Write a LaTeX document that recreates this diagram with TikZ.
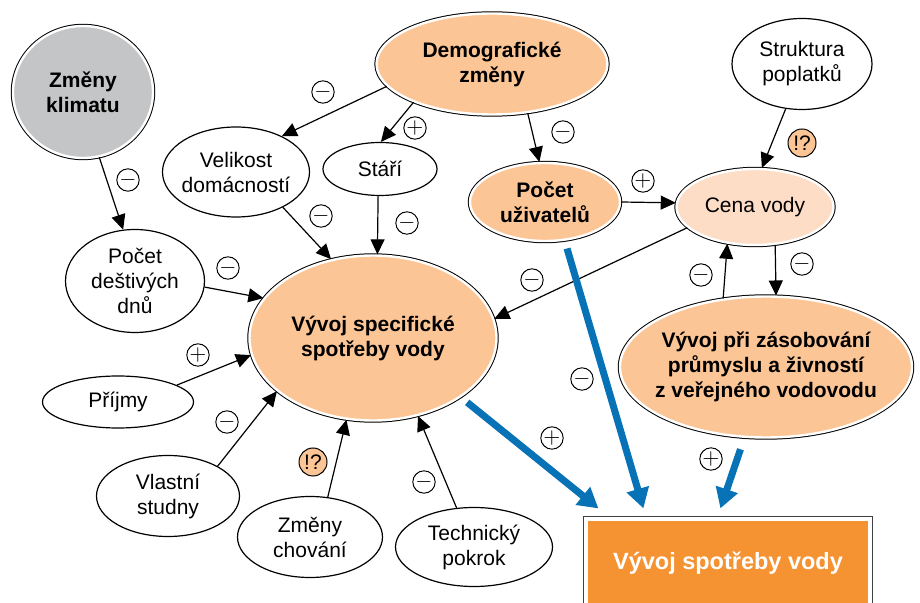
\documentclass[tikz,border=0pt]{standalone}
\usepackage{fontspec}
\setmainfont{Liberation Sans}
\usepackage{tikz}
\usetikzlibrary{arrows.meta,shapes.geometric}

\definecolor{peach}{RGB}{252,197,150}
\definecolor{lightpeach}{RGB}{253,221,198}
\definecolor{boxorange}{RGB}{245,146,50}
\definecolor{climgray}{RGB}{196,197,199}
\definecolor{flowblue}{RGB}{8,114,182}

\begin{document}
\begin{tikzpicture}[
    x=0.5pt, y=-0.5pt,
    every node/.style={font=\fontsize{10.5}{12.5}\selectfont, align=center, inner sep=0pt},
    el/.style={ellipse, draw, line width=0.6pt},
    ring/.style={ellipse, fill=#1, draw=white, line width=1.2pt,
                 preaction={draw=black, line width=2.2pt}},
    bx/.style={rectangle, fill=boxorange, draw=white, line width=1.6pt,
               preaction={draw=black!75, line width=2.6pt}},
    bf/.style={font=\fontsize{10.5}{12.5}\selectfont\bfseries},
    e/.style={-{Triangle[length=7.5pt, width=7pt]}, line width=0.6pt},
    be/.style={-{Triangle[length=10pt, width=11pt]}, line width=3.5pt, draw=flowblue},
    sg/.style={circle, draw, line width=0.5pt, minimum size=11pt},
    qm/.style={circle, draw, fill=peach, line width=0.5pt, minimum size=14pt},
  ]
  \useasboundingbox (0,0) rectangle (920,603);

  % nodes
  \node[ring=climgray, bf, minimum width=70pt, minimum height=66pt] (klima) at (83,92) {Změny\\klimatu};
  \node[ring=peach, bf, minimum width=115.5pt, minimum height=50.5pt] (demo) at (492,64) {Demografické\\změny};
  \node[el, minimum width=70pt, minimum height=45.5pt] (strukt) at (802,64) {Struktura\\poplatků};
  \node[el, inner xsep=-1.8pt, minimum width=73.5pt, minimum height=45pt] (vel) at (236,172) {Velikost\\domácností};
  \node[el, minimum width=57pt, minimum height=26.5pt] (stari) at (380,169) {Stáří};
  \node[ring=peach, bf, minimum width=75pt, minimum height=39pt] (pocet) at (545,202) {Počet\\uživatelů};
  \node[ring=lightpeach, minimum width=78.5pt, minimum height=38pt] (cena) at (755,207) {Cena vody};
  \node[el, minimum width=69.5pt, minimum height=51.5pt] (dest) at (135,281) {Počet\\deštivých\\dnů};
  \node[ring=peach, bf, minimum width=123.5pt, minimum height=82.5pt] (spec) at (373,338) {Vývoj specifické\\spotřeby vody};
  \node[el, minimum width=75.5pt, minimum height=26pt] (prijmy) at (118,402) {Příjmy};
  \node[el, minimum width=71.5pt, minimum height=40.5pt] (studny) at (168,496) {Vlastní\\studny};
  \node[el, minimum width=72.5pt, minimum height=40.5pt] (chovani) at (310,537) {Změny\\chování};
  \node[el, minimum width=78.5pt, minimum height=39.5pt] (tech) at (474,547) {Technický\\pokrok};
  \node[ring=peach, bf, inner xsep=-3.8pt, minimum width=144.5pt, minimum height=70.5pt] (zas) at (766,367) {Vývoj při zásobování\\průmyslu a živností\\z veřejného vodovodu};
  \node[bx, minimum width=142pt, minimum height=44pt, text=white, font=\fontsize{11.75}{14}\selectfont\bfseries] (celk) at (728,563) {Vývoj spotřeby vody};

  % black arrows
  \draw[e] (klima.284) -- (dest.103);
  \draw[e] (demo.192) -- (vel.38);
  \draw[e] (demo.206) -- (stari.88);
  \draw[e] (demo.306) -- (pocet.98);
  \draw[e] (strukt.250) -- (cena.80);
  \draw[e] (pocet.0) -- (cena.177);
  \draw[e] (cena.197) -- (spec.9);
  \draw[e] (zas.122) -- (cena.233);
  \draw[e] (cena.298) -- (zas.82);
  \draw[e] (vel.323) -- (spec.118);
  \draw[e] (stari.266) -- (spec.87);
  \draw[e] (dest.355) -- (spec.160);
  \draw[e] (prijmy.16) -- (spec.188);
  \draw[e] (studny.31) -- (spec.209);
  \draw[e] (chovani.66) -- (spec.252);
  \draw[e] (tech.114) -- (spec.300);

  % blue arrows
  \coordinate (in1) at ([shift={(14,-9)}]celk.north west);
  \coordinate (in2) at ([shift={(59,-9)}]celk.north west);
  \coordinate (in3) at ([shift={(136,-9)}]celk.north west);
  \draw[be, shorten <=4pt] (spec.326) -- (in1);
  \draw[be, shorten <=4pt] (pocet.297) -- (in2);
  \draw[be, shorten <=6pt] (zas.253) -- (in3);

  % signs
  \node[sg] (s1) at (128,180) {$-$};
  \node[sg] (s2) at (323,92) {$-$};
  \node[sg] (s3) at (415,128) {$+$};
  \node[sg] (s4) at (563,132) {$-$};
  \node[qm] (q1) at (802,143) {!?};
  \node[sg] (s5) at (643,181) {$+$};
  \node[sg] (s6) at (532,280) {$-$};
  \node[sg] (s7) at (701,275) {$-$};
  \node[sg] (s8) at (802,264) {$-$};
  \node[sg] (s9) at (321,216) {$-$};
  \node[sg] (s10) at (407,223) {$-$};
  \node[sg] (s11) at (228,268) {$-$};
  \node[sg] (s12) at (198,355) {$+$};
  \node[sg] (s13) at (227,422) {$-$};
  \node[qm] (q2) at (313,462) {!?};
  \node[sg] (s14) at (424,482) {$-$};
  \node[sg] (s15) at (582,379) {$-$};
  \node[sg] (s16) at (552,438) {$+$};
  \node[sg] (s17) at (711,459) {$+$};
\end{tikzpicture}
\end{document}
